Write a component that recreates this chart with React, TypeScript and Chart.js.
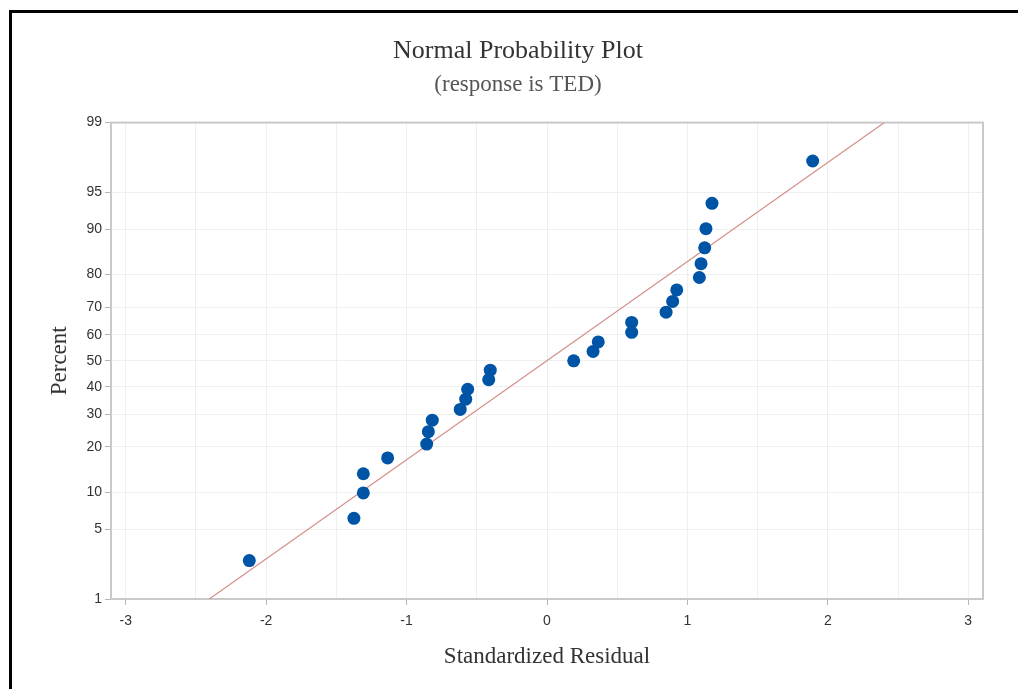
import React, { useEffect, useRef } from 'react';
import { Chart, registerables } from 'chart.js';

Chart.register(...registerables);

// Standardized residuals (x) and their plotted percent (y)
const residuals = [
  -2.12, -1.375, -1.308, -1.308, -1.135, -0.857, -0.845, -0.817, -0.618,
  -0.579, -0.565, -0.415, -0.404, 0.19, 0.328, 0.365, 0.603, 0.603,
  0.848, 0.895, 0.924, 1.085, 1.097, 1.123, 1.132, 1.175, 1.892,
];
const percents = [
  2.55, 6.2, 9.85, 13.5, 17.15, 20.8, 24.45, 28.1, 31.75, 35.4, 39.05, 42.7,
  46.35, 50.0, 53.65, 57.3, 60.95, 64.6, 68.25, 71.9, 75.55, 79.2, 82.85,
  86.5, 90.15, 93.8, 97.45,
];

// Fitted reference line end points
const fitLineX = [-2.405, 2.403];
const fitLinePercent = [1, 99];

// Axis ticks
const yTickPercents = [1, 5, 10, 20, 30, 40, 50, 60, 70, 80, 90, 95, 99];
const xTickLabels = [-3, -2, -1, 0, 1, 2, 3];
const xGridValues = [-3, -2.5, -2, -1.5, -1, -0.5, 0, 0.5, 1, 1.5, 2, 2.5, 3];

const X_MIN = -3.105;
const X_MAX = 3.105;

// inverse standard normal CDF (Acklam) for the probability scale
function probit(p: number): number {
  const a = [-3.969683028665376e1, 2.209460984245205e2, -2.759285104469687e2, 1.38357751867269e2, -3.066479806614716e1, 2.506628277459239];
  const b = [-5.447609879822406e1, 1.615858368580409e2, -1.556989798598866e2, 6.680131188771972e1, -1.328068155288572e1];
  const c = [-7.784894002430293e-3, -3.223964580411365e-1, -2.400758277161838, -2.549732539343734, 4.374664141464968, 2.938163982698783];
  const d = [7.784695709041462e-3, 3.224671290700398e-1, 2.445134137142996, 3.754408661907416];
  const pl = 0.02425;
  const ph = 1 - pl;
  let q: number;
  let r: number;
  if (p < pl) {
    q = Math.sqrt(-2 * Math.log(p));
    return (((((c[0] * q + c[1]) * q + c[2]) * q + c[3]) * q + c[4]) * q + c[5]) /
      ((((d[0] * q + d[1]) * q + d[2]) * q + d[3]) * q + 1);
  }
  if (p <= ph) {
    q = p - 0.5;
    r = q * q;
    return ((((((a[0] * r + a[1]) * r + a[2]) * r + a[3]) * r + a[4]) * r + a[5]) * q) /
      (((((b[0] * r + b[1]) * r + b[2]) * r + b[3]) * r + b[4]) * r + 1);
  }
  q = Math.sqrt(-2 * Math.log(1 - p));
  return -(((((c[0] * q + c[1]) * q + c[2]) * q + c[3]) * q + c[4]) * q + c[5]) /
    ((((d[0] * q + d[1]) * q + d[2]) * q + d[3]) * q + 1);
}

const plotFrame = {
  id: 'plotFrame',
  beforeDatasetsDraw(chart: any) {
    const { ctx, chartArea } = chart;
    const { left, top, right, bottom } = chartArea;
    ctx.save();
    ctx.strokeStyle = '#c9c9c9';
    ctx.lineWidth = 2;
    ctx.strokeRect(left, top, right - left, bottom - top);
    ctx.restore();
  },
};

export default function App() {
  const ref = useRef<HTMLCanvasElement | null>(null);

  useEffect(() => {
    if (!ref.current) return;
    const points = residuals.map((x, i) => ({ x, y: probit(percents[i] / 100) }));
    const line = fitLineX.map((x, i) => ({ x, y: probit(fitLinePercent[i] / 100) }));

    const chart = new Chart(ref.current, {
      type: 'scatter',
      data: {
        datasets: [
          {
            type: 'scatter',
            label: 'Residuals',
            data: points,
            backgroundColor: '#0054a6',
            borderColor: '#0054a6',
            borderWidth: 0,
            pointRadius: 6.5,
            order: 1,
          },
          {
            type: 'line',
            label: 'Fit',
            data: line,
            borderColor: '#d58f8b',
            borderWidth: 1.2,
            pointRadius: 0,
            fill: false,
            order: 2,
          } as any,
        ],
      },
      options: {
        responsive: false,
        animation: false,
        layout: { padding: { left: 53, right: 35, top: 0, bottom: 0 } },
        plugins: {
          legend: { display: false },
          tooltip: { enabled: false },
          title: {
            display: true,
            text: 'Normal Probability Plot',
            color: '#333333',
            font: { family: 'Liberation Serif', size: 26, weight: 'normal' },
            padding: { top: 35.4, bottom: 4.2 },
          },
          subtitle: {
            display: true,
            text: '(response is TED)',
            color: '#555555',
            font: { family: 'Liberation Serif', size: 23, weight: 'normal' },
            padding: { top: 0, bottom: 24.2 },
          },
        },
        scales: {
          x: {
            type: 'linear',
            min: X_MIN,
            max: X_MAX,
            afterFit: (scale: any) => {
              scale.height = 90;
            },
            afterBuildTicks: (scale: any) => {
              scale.ticks = xGridValues.map((v) => ({ value: v }));
            },
            border: { display: false },
            grid: {
              color: '#efefef',
              lineWidth: 1,
              drawTicks: true,
              tickLength: 6,
              tickColor: (ctx: any) =>
                ctx.tick && xTickLabels.includes(ctx.tick.value) ? '#b5b5b5' : 'rgba(0,0,0,0)',
            },
            ticks: {
              autoSkip: false,
              maxRotation: 0,
              padding: 8,
              color: '#333333',
              font: { family: 'Liberation Sans', size: 14 },
              callback: (value: any) => (xTickLabels.includes(Number(value)) ? String(value) : ''),
            },
            title: {
              display: true,
              text: 'Standardized Residual',
              color: '#333333',
              font: { family: 'Liberation Serif', size: 23, weight: 'normal' },
              padding: { top: 0, bottom: 18.2 },
            },
          },
          y: {
            type: 'linear',
            min: probit(0.01),
            max: probit(0.99),
            afterFit: (scale: any) => {
              scale.width = 58;
            },
            afterBuildTicks: (scale: any) => {
              scale.ticks = yTickPercents.map((p) => ({ value: probit(p / 100) }));
            },
            border: { display: false },
            grid: {
              color: '#efefef',
              lineWidth: 1,
              drawTicks: true,
              tickLength: 6,
              tickColor: '#b5b5b5',
            },
            ticks: {
              autoSkip: false,
              padding: 3,
              color: '#333333',
              font: { family: 'Liberation Sans', size: 14 },
              callback: (_value: any, index: number) => String(yTickPercents[index]),
            },
            title: {
              display: true,
              text: 'Percent',
              color: '#333333',
              font: { family: 'Liberation Serif', size: 23, weight: 'normal' },
              padding: { top: -6.8, bottom: 0 },
            },
          },
        },
      },
      plugins: [plotFrame],
    });
    return () => chart.destroy();
  }, []);

  return (
    <div
      style={{
        position: 'fixed',
        left: 0,
        top: 0,
        width: 1018,
        height: 689,
        overflow: 'hidden',
        background: '#ffffff',
      }}
    >
      <canvas ref={ref} width={1018} height={689} style={{ position: 'absolute', left: 0, top: 0 }} />
      <div
        style={{
          position: 'absolute',
          left: 9,
          top: 10,
          width: 1100,
          height: 800,
          border: '3px solid #000',
          pointerEvents: 'none',
        }}
      />
    </div>
  );
}
